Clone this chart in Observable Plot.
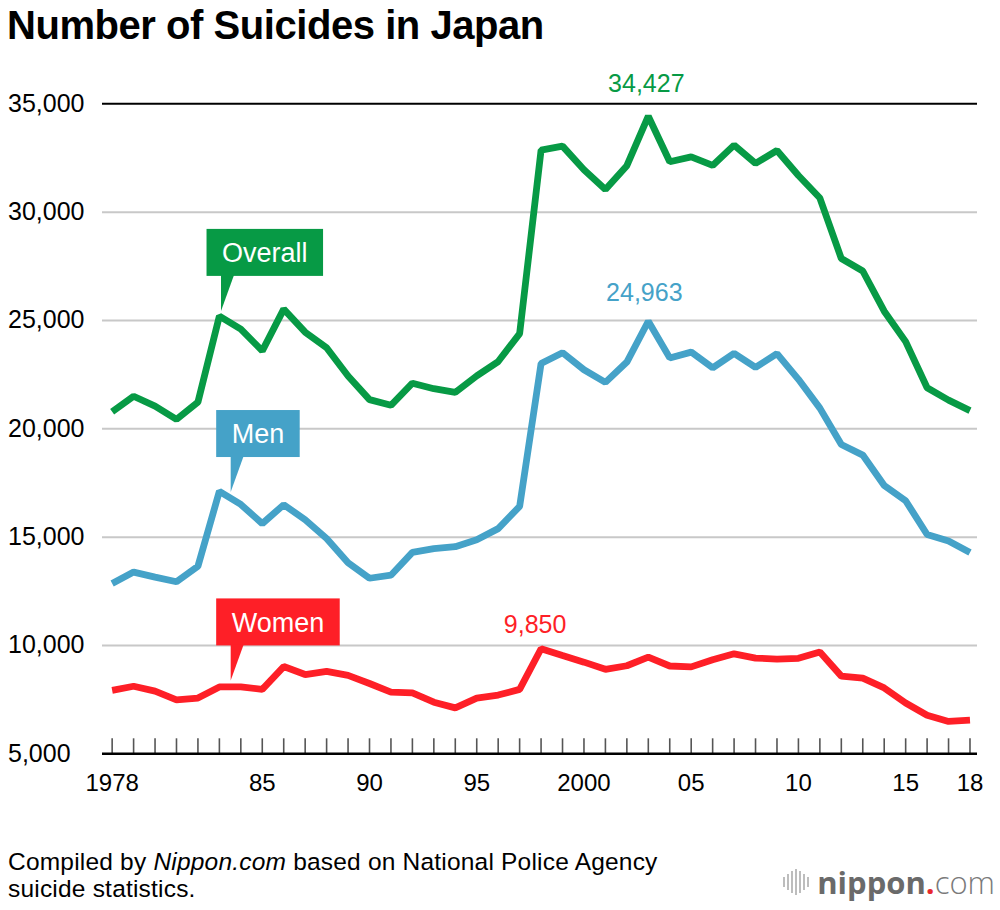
<!DOCTYPE html>
<html>
<head>
<meta charset="utf-8">
<script src="https://cdn.jsdelivr.net/npm/d3@7"></script>
<script src="https://cdn.jsdelivr.net/npm/@observablehq/plot@0.6"></script>
<style>
  html, body { margin: 0; padding: 0; background: #fff; }
  body { font-family: "Liberation Sans", Arial, Helvetica, sans-serif; }
  #wrap { position: relative; width: 1000px; height: 910px; overflow: hidden; }
  #title { position: absolute; left: 7px; top: 5px; font-size: 40px; line-height: 40px; font-weight: bold; letter-spacing: -0.45px; color: #000; white-space: nowrap; }
  #chart { position: absolute; left: 0; top: 60px; }
  #caption { position: absolute; left: 8px; top: 849px; font-size: 24.5px; line-height: 26.7px; color: #000; letter-spacing: 0.2px; white-space: nowrap; }
  #logo { position: absolute; right: 5px; top: 862px; height: 40px; display: flex; align-items: center; white-space: nowrap; }
  #logo .n { font-family: "Open Sans", "Liberation Sans", sans-serif; font-weight: 700; font-size: 31px; color: #6a6a6a; }
  #logo .d { font-family: "Open Sans", "Liberation Sans", sans-serif; font-weight: 700; font-size: 31px; color: #e8282e; }
  #logo .c { font-family: "Open Sans", "Liberation Sans", sans-serif; font-weight: 300; font-size: 31px; color: #7a7a7a; }
</style>
</head>
<body>
<div id="wrap">
  <div id="title">Number of Suicides in Japan</div>
  <div id="chart"></div>
  <div id="caption">Compiled by <i>Nippon.com</i> based on National Police Agency<br>suicide statistics.</div>
  <div id="logo">
    <svg width="26" height="30" style="margin-right:8px">
      <g fill="#bdbdbd">
        <rect x="0" y="10" width="2" height="10"/>
        <rect x="4" y="7" width="2" height="16"/>
        <rect x="8" y="4" width="2" height="22"/>
        <rect x="12" y="2" width="2" height="26"/>
        <rect x="16" y="4" width="2" height="22"/>
        <rect x="20" y="7" width="2" height="16"/>
        <rect x="24" y="10" width="2" height="10"/>
      </g>
    </svg>
    <span class="n">nippon</span><span class="d">.</span><span class="c">com</span>
  </div>
</div>
<script>
// ---- data ----
const years = [1978,1979,1980,1981,1982,1983,1984,1985,1986,1987,1988,1989,1990,1991,1992,1993,1994,1995,1996,1997,1998,1999,2000,2001,2002,2003,2004,2005,2006,2007,2008,2009,2010,2011,2012,2013,2014,2015,2016,2017,2018];
const overall = [20788,21503,21048,20434,21228,25202,24596,23599,25524,24460,23742,22436,21346,21084,22104,21851,21679,22445,23104,24391,32863,33048,31957,31042,32143,34427,32325,32552,32155,33093,32249,32845,31690,30651,27858,27283,25427,24025,21897,21321,20840];
const men = [12859,13386,13155,12942,13654,17116,16508,15624,16497,15802,14934,13818,13102,13242,14296,14468,14560,14874,15393,16416,23013,23512,22727,22144,23080,24963,23272,23540,22813,23478,22831,23472,22283,20955,19273,18787,17386,16681,15121,14826,14290];
const women = [7929,8117,7893,7492,7574,8086,8088,7975,9027,8658,8808,8618,8244,7842,7808,7383,7119,7571,7711,7975,9850,9536,9230,8898,9063,9464,9053,9012,9342,9615,9418,9373,9407,9696,8585,8496,8041,7344,6776,6495,6550];
const seriesNames = ["Overall", "Men", "Women"];
const yTicks = [5000,10000,15000,20000,25000,30000,35000];
const gridValues = [10000,15000,20000,25000,30000];
const xLabelYears = [1978,1985,1990,1995,2000,2005,2010,2015,2018];
const xLabels = ["1978","85","90","95","2000","05","10","15","18"];

// ---- style ----
const GREEN = "#079a45", BLUE = "#45a2c8", RED = "#fe1f27";
const fmt = d3.format(",");

const rows = (vals) => years.map((y, i) => ({year: y, value: vals[i]}));
const dO = rows(overall), dM = rows(men), dW = rows(women);
const peak = (d) => d[d3.maxIndex(d, r => r.value)];

const plot = Plot.plot({
  width: 1000,
  height: 760,
  marginTop: 43.3,
  marginBottom: 66.7,
  marginLeft: 102,
  marginRight: 23,
  x: {domain: [1977.55, 2018.35], axis: null, label: null},
  y: {domain: [5000, 35000], axis: null, label: null},
  style: {fontFamily: '"Liberation Sans", Arial, Helvetica, sans-serif', background: "#fff", overflow: "visible"},
  marks: [
    Plot.ruleY(gridValues, {stroke: "#c8c8c8", strokeWidth: 2}),
    Plot.ruleY([35000], {stroke: "#000", strokeWidth: 2}),
    Plot.axisX({ticks: years, tickSize: 15, dy: -15, fill: "none", stroke: "#555", strokeWidth: 1.6, label: null}),
    Plot.ruleY([5000], {stroke: "#000", strokeWidth: 2.5}),
    Plot.text(xLabelYears, {x: d => d, frameAnchor: "bottom", dy: 30, text: (d, i) => xLabels[i], fontSize: 24, fill: "#000", lineAnchor: "middle"}),
    Plot.text(yTicks, {y: d => d, frameAnchor: "left", dx: -94.5, textAnchor: "start", text: d => fmt(d), fontSize: 25, fill: "#000"}),
    Plot.lineY(dO, {x: "year", y: "value", stroke: GREEN, strokeWidth: 6.8, strokeLinejoin: "miter", strokeLinecap: "butt"}),
    Plot.lineY(dM, {x: "year", y: "value", stroke: BLUE, strokeWidth: 6.8, strokeLinejoin: "miter", strokeLinecap: "butt"}),
    Plot.lineY(dW, {x: "year", y: "value", stroke: RED, strokeWidth: 6.8, strokeLinejoin: "miter", strokeLinecap: "butt"}),
    Plot.text([peak(dO)], {x: "year", y: "value", text: d => fmt(d.value), dy: -32, dx: -2, fill: GREEN, fontSize: 25}),
    Plot.text([peak(dM)], {x: "year", y: "value", text: d => fmt(d.value), dy: -28, dx: -4, fill: BLUE, fontSize: 25}),
    Plot.text([peak(dW)], {x: "year", y: "value", text: d => fmt(d.value), dy: -24, dx: -6, fill: RED, fontSize: 25})
  ]
});
document.getElementById("chart").appendChild(plot);

// ---- series label call-outs anchored on the lines through the plot's scales ----
const sx = plot.scale("x"), sy = plot.scale("y");
const svg = d3.select(plot);
const callouts = [
  {name: seriesNames[0], vals: overall, year: 1983.1, color: GREEN},
  {name: seriesNames[1], vals: men, year: 1983.55, color: BLUE},
  {name: seriesNames[2], vals: women, year: 1983.55, color: RED}
];
const g = svg.append("g").attr("class", "callouts");
callouts.forEach(c => {
  const i0 = years.indexOf(Math.floor(c.year));
  const f = c.year - years[i0];
  const v = c.vals[i0] * (1 - f) + c.vals[i0 + 1] * f;
  const tx = sx.apply(c.year), ty = sy.apply(v) - 6;
  const boxBottom = ty - 35, boxH = 47, boxLeft = tx - 14.5;
  const grp = g.append("g");
  const rect = grp.append("rect").attr("fill", c.color);
  grp.append("path")
    .attr("d", `M${tx},${boxBottom - 1}L${tx + 13},${boxBottom - 1}L${tx},${ty}Z`)
    .attr("fill", c.color);
  const t = grp.append("text")
    .attr("fill", "#fff")
    .attr("font-size", 27)
    .attr("text-anchor", "middle")
    .text(c.name);
  const tw = t.node().getComputedTextLength();
  const w = tw + 31;
  rect.attr("x", boxLeft).attr("y", boxBottom - boxH).attr("width", w).attr("height", boxH);
  t.attr("x", boxLeft + w / 2).attr("y", boxBottom - boxH / 2 + 9.8);
});
</script>
</body>
</html>
